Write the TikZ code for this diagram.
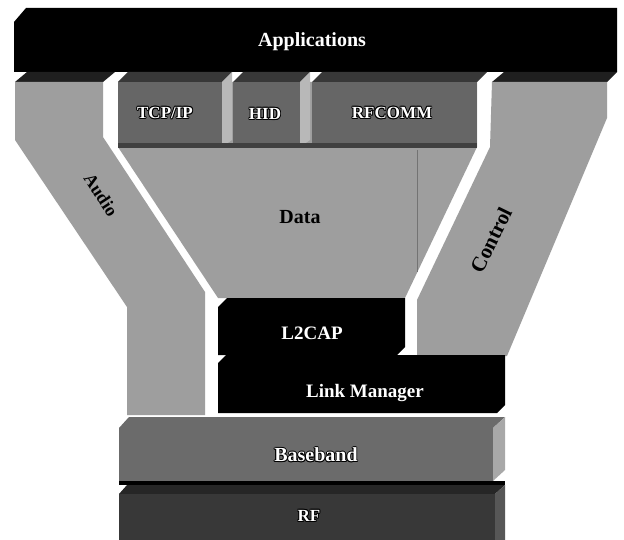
\documentclass[tikz,border=0pt]{standalone}
\usepackage{fontspec}
\setmainfont{Liberation Serif}
\definecolor{band}{gray}{0.62}
\definecolor{bandtop}{gray}{0.12}
\definecolor{boxfront}{gray}{0.40}
\definecolor{boxtop}{gray}{0.22}
\definecolor{boxside}{gray}{0.72}
\definecolor{bbfront}{gray}{0.42}
\definecolor{bbside}{gray}{0.66}
\definecolor{rffront}{gray}{0.22}
\definecolor{rfside}{gray}{0.34}
\newcommand\outl[1]{\leavevmode
  \rlap{\color{black}\hspace{-0.9pt}#1}%
  \rlap{\color{black}\hspace{0.9pt}#1}%
  \rlap{\color{black}\raisebox{0.9pt}{#1}}%
  \rlap{\color{black}\raisebox{-0.9pt}{#1}}%
  \rlap{\color{black}\hspace{0.6pt}\raisebox{0.6pt}{#1}}%
  \rlap{\color{black}\hspace{-0.6pt}\raisebox{-0.6pt}{#1}}%
  \rlap{\color{black}\hspace{0.6pt}\raisebox{-0.6pt}{#1}}%
  \rlap{\color{black}\hspace{-0.6pt}\raisebox{0.6pt}{#1}}%
  {\color{white}#1}}
\tikzset{
  whitelbl/.style={font=\bfseries\fontsize{19}{22}\selectfont, text=white, inner sep=0pt},
  outlbl/.style={font=\bfseries\fontsize{17}{20}\selectfont, inner sep=0pt},
  blacklbl/.style={font=\bfseries\fontsize{20}{23}\selectfont, text=black, inner sep=0pt}
}
\begin{document}
\begin{tikzpicture}[x=1pt,y=-1pt]
\useasboundingbox (0,0) rectangle (624,540);
\fill[white] (0,0) rectangle (624,540);

% Applications bar
\fill[black] (14,22) -- (26,8) -- (617,8) -- (617,72) -- (14,72) -- cycle;

% Audio band
\fill[bandtop] (15,82) -- (27,72) -- (115,72) -- (103,82) -- cycle;
\fill[band] (15,82) -- (103,82) -- (103,137) -- (205,292) -- (205,415)
  -- (127,415) -- (127,307) -- (15,140) -- cycle;

% Data band
\fill[band] (118,82) -- (477,82) -- (477,147) -- (405,298) -- (218,298)
  -- (118,147) -- cycle;
\draw[black!55, line width=0.6pt] (417,150) -- (417,272);

% Control band
\fill[bandtop] (492,82) -- (504,72) -- (617,72) -- (607,82) -- cycle;
\fill[band] (492,82) -- (607,82) -- (607,118) -- (507,356) -- (417,356)
  -- (417,300) -- (490,147) -- cycle;

% TCP/IP box
\fill[boxtop] (118,82) -- (128,72) -- (232,72) -- (222,82) -- cycle;
\fill[boxfront] (118,82) rectangle (222,147);
\fill[boxside] (222,82) -- (232,72) -- (232,140) -- (222,147) -- cycle;
% HID box
\fill[boxtop] (233,82) -- (243,72) -- (310,72) -- (300,82) -- cycle;
\fill[boxfront] (233,82) rectangle (300,147);
\fill[boxside] (300,82) -- (310,72) -- (310,140) -- (300,147) -- cycle;
% RFCOMM box
\fill[boxtop] (312,82) -- (322,72) -- (487,72) -- (477,82) -- cycle;
\fill[boxfront] (312,82) rectangle (477,147);
\fill[black!75] (118,143) rectangle (477,148);

% L2CAP
\fill[black] (218,307) -- (227,298) -- (405,298) -- (405,347) -- (397,355)
  -- (218,355) -- cycle;
% Link Manager
\fill[black] (218,363) -- (226,355) -- (505,355) -- (505,405) -- (497,413)
  -- (218,413) -- cycle;

% Baseband
\fill[bbfront] (119,428) -- (129,417) -- (505,417) -- (493,428) -- (493,481)
  -- (119,481) -- cycle;
\fill[bbside] (493,428) -- (505,417) -- (505,470) -- (493,481) -- cycle;
\fill[black] (119,481) rectangle (505,485);

% RF
\fill[black!85] (119,494) -- (127,485) -- (505,485) -- (495,494) -- cycle;
\fill[rffront] (119,494) rectangle (495,540);
\fill[rfside] (495,494) -- (505,485) -- (505,540) -- (495,540) -- cycle;

% Labels
\node[whitelbl, font=\bfseries\fontsize{20}{23}\selectfont] (apps) at (312,42) {Applications};
\node[outlbl] (tcpip) at (165,113) {\outl{TCP/IP}};
\node[outlbl] (hid) at (265,114) {\outl{HID}};
\node[outlbl] (rfcomm) at (392,113) {\outl{RFCOMM}};
\node[blacklbl] (data) at (300,217) {Data};
\node[blacklbl, font=\bfseries\fontsize{18}{21}\selectfont, rotate=-57] (audio) at (101,195) {Audio};
\node[blacklbl, font=\bfseries\fontsize{21}{24}\selectfont, rotate=64] (control) at (491,240) {Control};
\node[whitelbl] (l2cap) at (312,333) {L2CAP};
\node[whitelbl] (lm) at (365,393) {Link Manager};
\node[outlbl, font=\bfseries\fontsize{20}{23}\selectfont] (baseband) at (316,455) {\outl{Baseband}};
\node[outlbl] (rf) at (309,516) {\outl{RF}};
\end{tikzpicture}
\end{document}
